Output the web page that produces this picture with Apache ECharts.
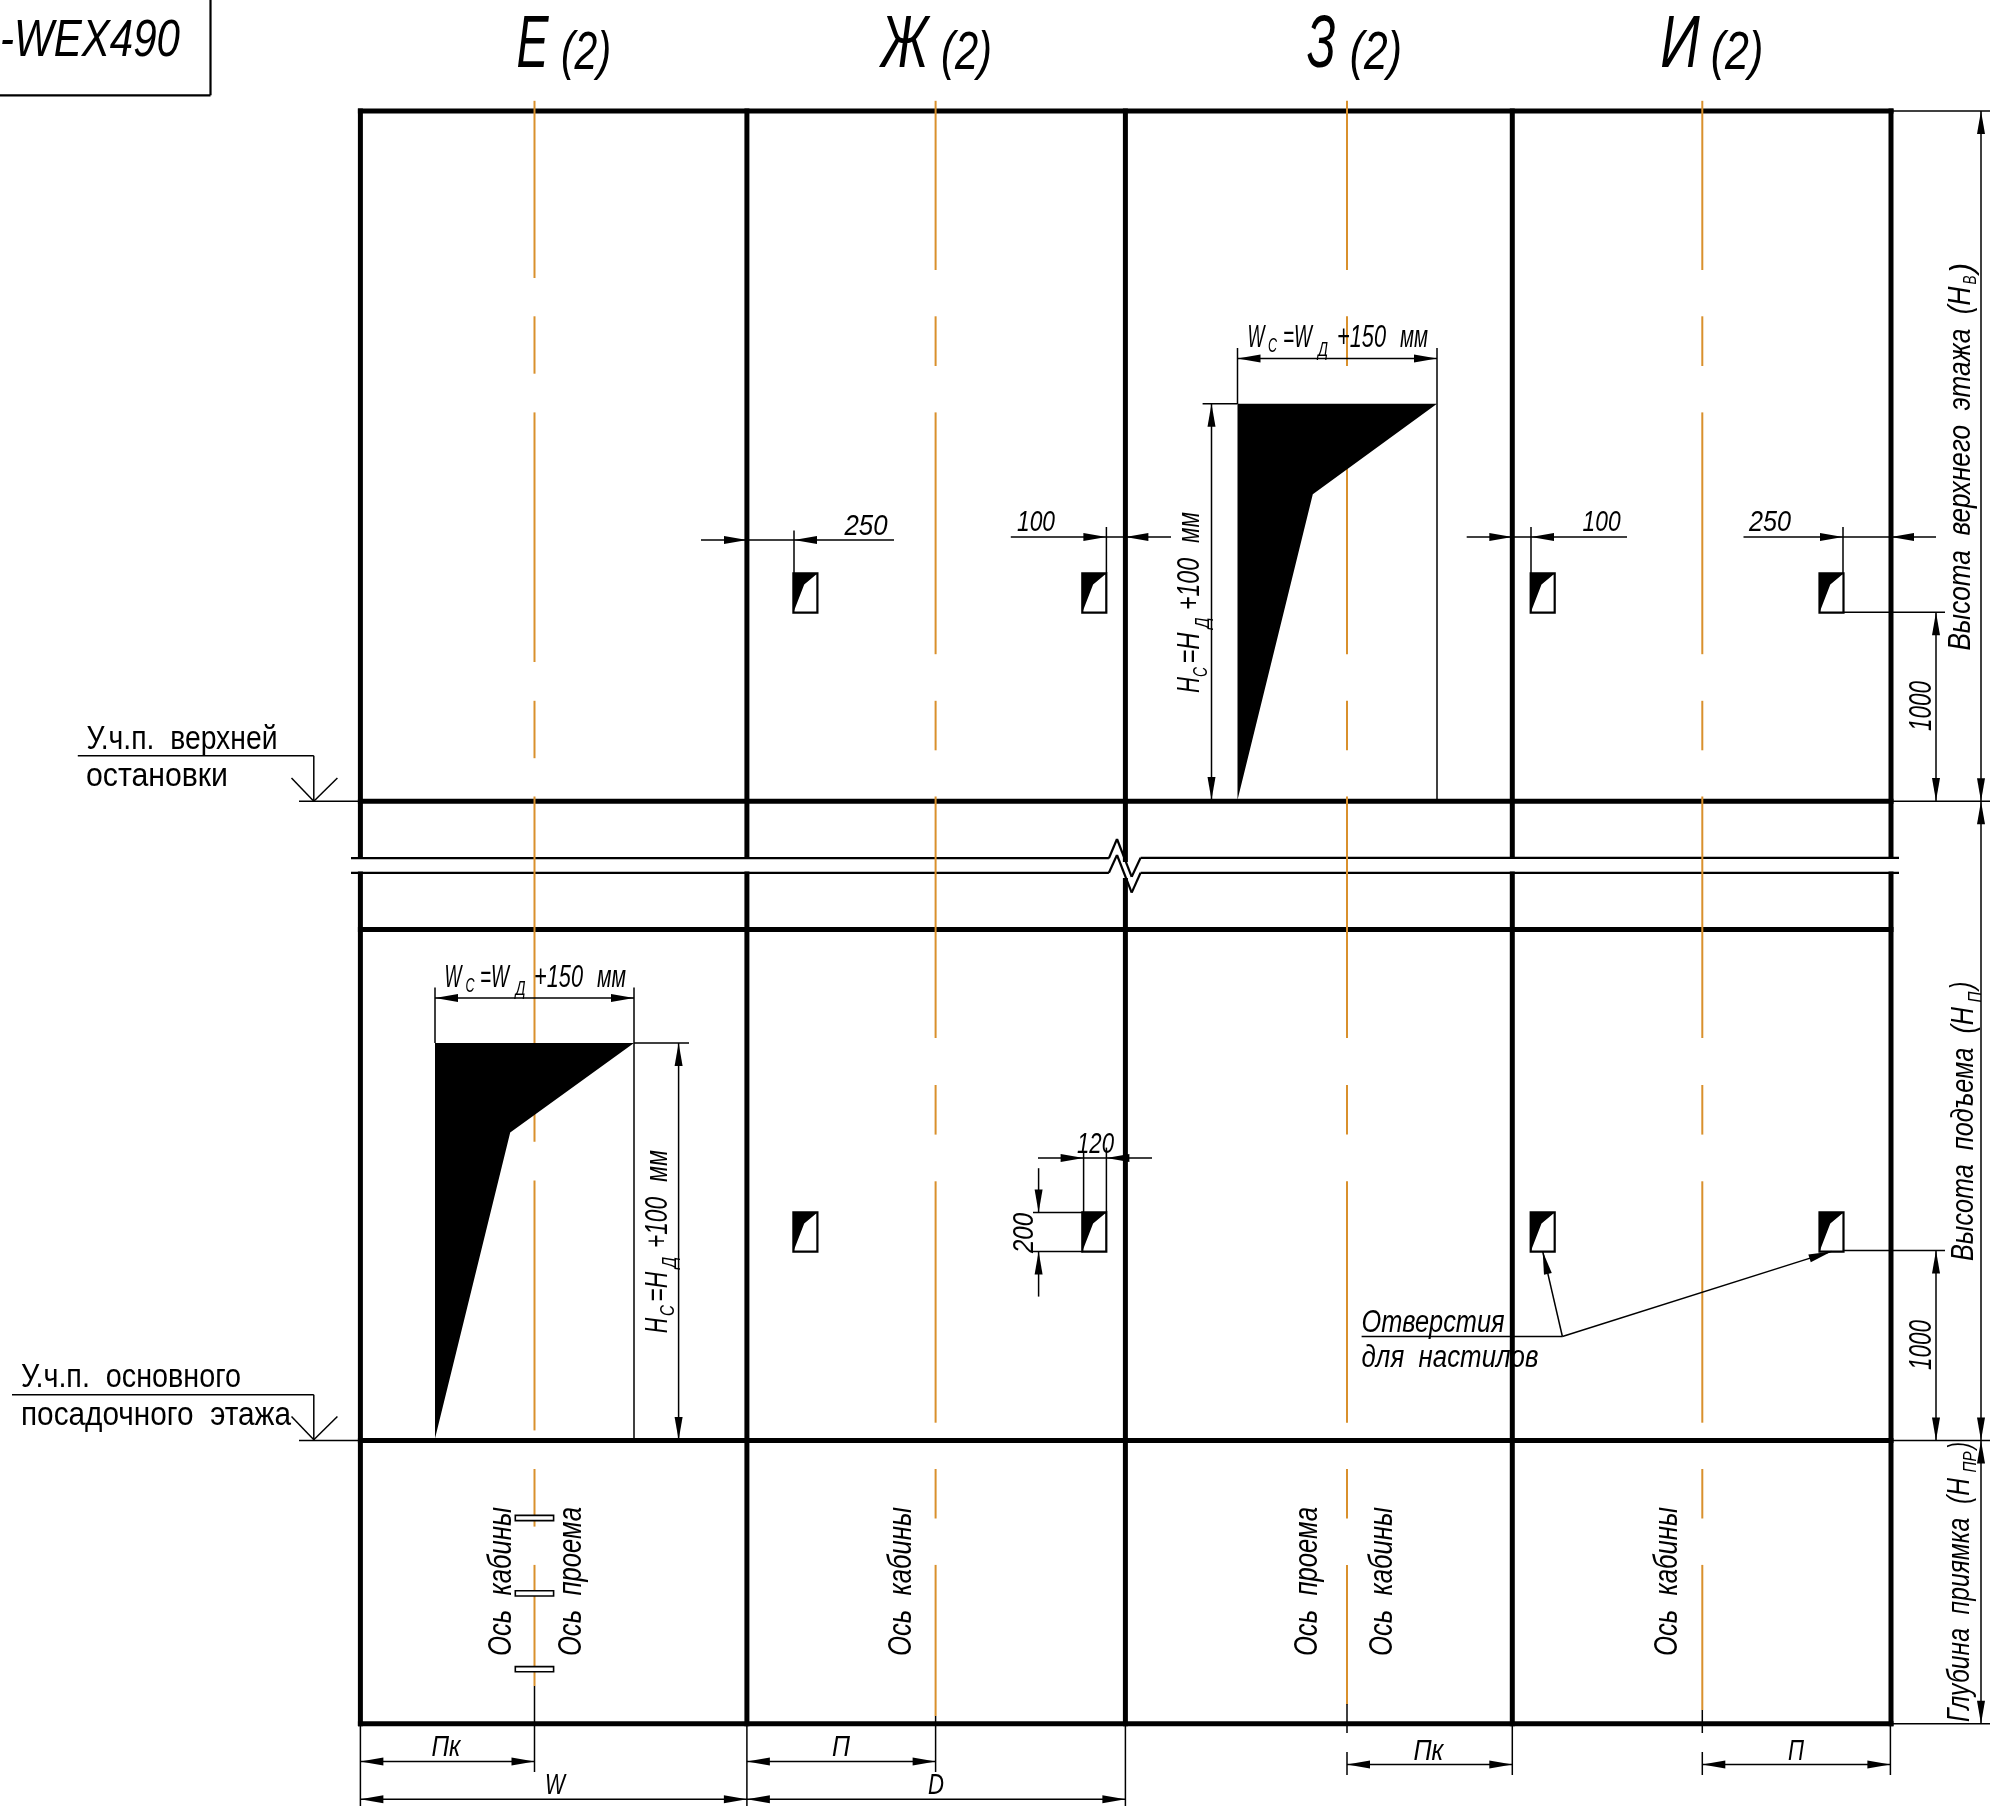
<!DOCTYPE html>
<html><head><meta charset="utf-8">
<style>html,body{margin:0;padding:0;background:#fff}#c{width:1993px;height:1806px}</style>
<script src="https://cdn.jsdelivr.net/npm/echarts@6/dist/echarts.min.js"></script>
</head><body><div id="c"></div>
<script>
// Drawing values (drawing units on the hidden axes)
const frameX = [360.4, 746.9, 1125.4, 1512.3, 1891];
const frameY = [111, 801.3, 929.4, 1440.4, 1723.8];
const axisX = [534.5, 935.6, 1347, 1702.3];
const axisDashes = [
  [[100.8,278],[316.3,373.7],[412.4,662],[700.8,758.2],[796.5,1141.7],[1180.5,1430.4],[1469,1526.6],[1564.9,1686]],
  [[100.8,270],[316.3,366],[412.4,654.2],[700.8,750.3],[796.5,1038],[1085,1134.6],[1181.3,1422.7],[1469,1518.5],[1564.9,1716]],
  [[100.8,270],[316.3,366],[412.4,654.2],[700.8,750.3],[796.5,1038],[1085,1134.6],[1181.3,1422.7],[1469,1518.5],[1564.9,1704.4]],
  [[100.8,270],[316.3,366],[412.4,654.2],[700.8,750.3],[796.5,1038],[1085,1134.6],[1181.3,1422.7],[1469,1518.5],[1564.9,1710]]
];
const axisStubs = [
  [534.5,1686,534.5,1772],[935.6,1716,935.6,1772],
  [1347,1704,1347,1733],[1347,1752,1347,1775],[1702.3,1710,1702.3,1733],[1702.3,1752,1702.3,1775]
];
const openings = [
  [435,1043,634,1043,510.2,1132.6,435,1438.5],
  [1237.5,403.7,1437,403.7,1312.8,494.3,1237.5,800]
];
const holeLeft = [793.4,1082.3,1530.7,1819.5];
const holeTop = [573.4,1212.4];
const holeWidth = 24, holeHeight = 39.2;
const sectionMarks = [1515.4,1590.8,1666.6];
const breakTop = [[351,858.2],[1108.9,858.2],[1117,839],[1131.7,876.8],[1140.6,857.8],[1899,857.8]];
const breakBottom = [[351,872.8],[1108.9,872.8],[1117,855],[1131.7,892.6],[1140.6,872.8],[1899,872.8]];
const boxLines = [[0,95.3,210.5,95.3],[210.5,0,210.5,95.3]];
const thinLines = [
  // opening extension and dimension lines
  [1237.5,348,1237.5,404],[1437,348,1437,800],[1237.5,358.6,1437,358.6],[1202.6,403.7,1237.5,403.7],[1211.5,403.7,1211.5,800],
  [435,987.5,435,1043],[634,987.5,634,1440],[435,998,634,998],[634,1043,689,1043],[678.6,1043,678.6,1440],
  // hole offsets, upper row
  [701,540,894,540],[794,530.6,794,573],[1010.8,537,1171,537],[1106.4,527,1106.4,573],
  [1466.7,537,1627,537],[1531,527,1531,573],[1743.5,537,1936,537],[1843,527,1843,573],
  [1843,612.3,1945,612.3],[1936,612.3,1936,801],
  [1843,1250.6,1945,1250.6],[1936,1250.6,1936,1440.4],
  // 120 and 200
  [1038,1158,1152,1158],[1083.6,1151,1083.6,1212],[1106.4,1147.6,1106.4,1212],
  [1038.6,1168.2,1038.6,1212.4],[1038.6,1251.4,1038.6,1296.6],[1033,1212.4,1083,1212.4],[1033,1251.4,1083,1251.4],
  // overall right dimension
  [1891,111,1990,111],[1891,801.3,1990,801.3],[1891,1440.4,1990,1440.4],[1891,1723.8,1990,1723.8],[1981,111,1981,1723.8],
  // level marks
  [77.8,755.8,313.8,755.8],[313.8,755.8,313.8,801],[291.5,778,313.8,801.3],[337.4,778,313.8,801.3],[299,801.3,360,801.3],
  [12,1394.8,313.8,1394.8],[313.8,1394.8,313.8,1440],[291.5,1416.5,313.8,1439.7],[337.4,1416.5,313.8,1439.7],[299,1440.4,360,1440.4],
  // leader for holes
  [1361.6,1336.5,1562.4,1336.5],[1562.4,1336.5,1542.7,1251.4],[1562.4,1336.5,1831.5,1251.4],
  // bottom dimensions
  [360.4,1724,360.4,1806],[746.9,1724,746.9,1806],[1125.4,1724,1125.4,1806],[1512.3,1724,1512.3,1775],[1890.4,1724,1890.4,1775],
  [360.4,1761.6,534.5,1761.6],[360.4,1799.2,746.9,1799.2],[746.9,1761.6,935.6,1761.6],[746.9,1799.2,1125.4,1799.2],
  [1347,1764.4,1512.3,1764.4],[1702.3,1764.4,1890.4,1764.4]
];
const arrows = [ // tip x, tip y, then a point behind the tip
  [1237.5,358.6,1437,358.6],[1437,358.6,1237.5,358.6],[1211.5,403.7,1211.5,800],[1211.5,800,1211.5,403.7],
  [435,998,634,998],[634,998,435,998],[678.6,1043,678.6,1440],[678.6,1440,678.6,1043],
  [747,540,701,540],[794,540,894,540],[1106.4,537,1010.8,537],[1125.4,537,1171,537],
  [1512.3,537,1466.7,537],[1531,537,1627,537],[1843,537,1743.5,537],[1891,537,1936,537],
  [1936,612.3,1936,801],[1936,801,1936,612.3],[1936,1250.6,1936,1440.4],[1936,1440.4,1936,1250.6],
  [1083.6,1158,1038,1158],[1106.4,1158,1152,1158],[1038.6,1212.4,1038.6,1168.2],[1038.6,1251.4,1038.6,1296.6],
  [1981,111,1981,800],[1981,801.3,1981,111],[1981,801.3,1981,1440],[1981,1440.4,1981,801],[1981,1440.4,1981,1723],[1981,1723.8,1981,1441],
  [1542.7,1251.4,1562.4,1336.5],[1831.5,1251.4,1562.4,1336.5],
  [360.4,1761.6,534,1761.6],[534.5,1761.6,361,1761.6],[360.4,1799.2,746,1799.2],[746.9,1799.2,361,1799.2],
  [746.9,1761.6,935,1761.6],[935.6,1761.6,747,1761.6],[746.9,1799.2,1125,1799.2],[1125.4,1799.2,747,1799.2],
  [1347,1764.4,1512,1764.4],[1512.3,1764.4,1347,1764.4],[1702.3,1764.4,1890,1764.4],[1890.4,1764.4,1702,1764.4]
];
const labelText = ['-WEX490','Е','(2)','Ж','(2)','З','(2)','И','(2)',
  'У.ч.п.  верхней','остановки','У.ч.п.  основного','посадочного  этажа','Отверстия','для  настилов',
  '250','100','100','250','120','Пк','W','П','D','Пк','П',
  'W','С','=W','Д','+150','мм','W','С','=W','Д','+150','мм'];
const labelX = [90,532.5,586,904.5,966.5,1321.3,1375.8,1680,1737,
  182,157,131,156,1433,1450,
  866,1036,1601.6,1770,1095.5,446,555,841,936,1428.4,1796,
  1256,1272.5,1297.5,1323,1361.5,1414,453,470,494.5,520.5,558.5,611.5];
const labelY = [39,42.5,51,42.5,51,42.5,51,42.5,51,
  738,775,1376,1414,1321.5,1357,
  525,521,521,521,1143,1746,1784,1746,1784,1750,1750,
  337,345.5,337,349.5,337,337,976.5,985,976.5,988.5,976.5,976.5];
const labelLength = [180,32,50,47,51,28.6,52,39.5,52.5,
  191,142,220,270,143,177,
  43,38,38,42,37,29,20,18,16,30,16,
  17,9,29,10,49,28,17,9,29,10,49,29];
const labelSize = [52,74,54,74,54,74,54,74,54,
  33,33,33,33,31,31,
  30,30,30,30,30,30,30,30,30,30,30,
  31,21,31,21,31,31,31,21,31,21,31,31];
const labelUpright = [9,10,11,12];
const sideText = ['Высота  верхнего  этажа  (H','В',')','Высота  подъема  (H','П',')','Глубина  приямка  (H','ПР',')',
  '1000','1000','200','Ось  кабины','Ось  проема','Ось  кабины','Ось  проема','Ось  кабины','Ось  кабины',
  'H','С','=H','Д','+100','мм','H','С','=H','Д','+100','мм'];
const sideX = [1959.5,1969.5,1962,1963,1974.5,1962,1959,1970,1960,
  1920,1920,1023,500,570,900.5,1306.5,1381.5,1666.5,
  1189,1200,1189,1202,1189,1189,656.5,667,656.5,669.5,656.5,656.5];
const sideY = [468.6,280,268,1134,997,985.5,1600,1462,1445.5,
  706,1345,1233,1581.6,1581.6,1581.6,1581.6,1581.6,1581.6,
  685,672,648,623,584,527.5,1325.5,1310.5,1286.7,1262.5,1222.5,1166];
const sideLength = [364,9,10,254,11,8,244,21,7,50,50,40,149,149,149,149,149,149,
  16,10,31,11,52,31,15.5,11,30,11.5,51,32];
const sideSize = [31,19,31,31,19,31,31,19,31,32,32,30,33,33,33,33,33,33,
  31,21,31,21,31,31,31,21,31,21,31,31];

const FONT = '"Liberation Sans"';
const measure = document.createElement('canvas').getContext('2d');
function widthOf(text, size, italic){
  measure.font = (italic ? 'italic ' : '') + size + 'px ' + FONT;
  return measure.measureText(text).width;
}
function lineSeries(rows, color, width, z){
  return {type:'custom', coordinateSystem:'cartesian2d', silent:true, clip:false, animation:false, z:z,
    encode:{x:[0,2], y:[1,3]}, data:rows,
    renderItem:function(p, api){
      const a = api.coord([api.value(0),api.value(1)]), b = api.coord([api.value(2),api.value(3)]);
      return {type:'line', shape:{x1:a[0],y1:a[1],x2:b[0],y2:b[1]}, style:{stroke:color,lineWidth:width,fill:null}};
    }};
}
function polygonSeries(rows, fill, stroke, width, z){
  return {type:'custom', coordinateSystem:'cartesian2d', silent:true, clip:false, animation:false, z:z,
    encode:{x:0, y:1}, data:rows,
    renderItem:function(p, api){
      const pts=[]; const r=rows[p.dataIndex];
      for(let i=0;i<r.length;i+=2) pts.push(api.coord([r[i],r[i+1]]));
      return {type:'polygon', shape:{points:pts}, style:{fill:fill,stroke:stroke,lineWidth:width}};
    }};
}
function arrowSeries(rows, z){
  return {type:'custom', coordinateSystem:'cartesian2d', silent:true, clip:false, animation:false, z:z,
    encode:{x:[0,2], y:[1,3]}, data:rows,
    renderItem:function(p, api){
      const t=api.coord([api.value(0),api.value(1)]), f=api.coord([api.value(2),api.value(3)]);
      const d=Math.hypot(f[0]-t[0],f[1]-t[1]), ux=(f[0]-t[0])/d, uy=(f[1]-t[1])/d;
      const L=23,H=4;
      return {type:'polygon', shape:{points:[t,[t[0]+ux*L-uy*H,t[1]+uy*L+ux*H],[t[0]+ux*L+uy*H,t[1]+uy*L-ux*H]]}, style:{fill:'#000'}};
    }};
}
function textSeries(text, xs, ys, lens, sizes, rot, z, upright){
  return {type:'custom', coordinateSystem:'cartesian2d', silent:true, clip:false, animation:false, z:z,
    encode:{x:0, y:1}, data:xs.map(function(x,i){return [x,ys[i]];}),
    renderItem:function(p, api){
      const i=p.dataIndex, c=api.coord([api.value(0),api.value(1)]);
      const italic = upright.indexOf(i)<0;
      const s = lens[i]/widthOf(text[i],sizes[i],italic);
      const off = sizes[i]*0.05;
      return {type:'text', x:c[0]+(rot?off:0), y:c[1]+(rot?0:off), rotation:rot, scaleX:s, scaleY:1,
        style:{text:text[i], fill:'#000', align:'center', verticalAlign:'middle',
          font:(italic?'italic ':'')+sizes[i]+'px '+FONT}};
    }};
}
const frameRows = [];
frameX.forEach(function(x,i){
  const a = i===2?862:859, b = i===2?878:871.6;
  frameRows.push([x,frameY[0]-2.5,x,a],[x,b,x,frameY[4]+2.5]);
});
frameY.forEach(function(y){ frameRows.push([frameX[0]-2.5,y,frameX[4]+2.5,y]); });
const orangeRows = [];
axisDashes.forEach(function(list,i){ list.forEach(function(d){ orangeRows.push([axisX[i],d[0],axisX[i],d[1]]); }); });
function chain(pts){ const out=[]; for(let i=0;i<pts.length-1;i++) out.push([pts[i][0],pts[i][1],pts[i+1][0],pts[i+1][1]]); return out; }
const holeRects=[], holeFills=[];
holeTop.forEach(function(t){ holeLeft.forEach(function(l){
  holeRects.push([l,t,l+holeWidth,t,l+holeWidth,t+holeHeight,l,t+holeHeight]);
  holeFills.push([l,t,l+holeWidth,t,l+holeWidth*0.45,t+holeHeight*0.28,l,t+holeHeight]);
});});
const markRects = sectionMarks.map(function(y){ return [515.3,y,553.6,y,553.6,y+5.2,515.3,y+5.2]; });

const chart = echarts.init(document.getElementById('c'), null, {renderer:'canvas', width:1993, height:1806});
chart.setOption({
  animation:false, backgroundColor:'#fff',
  grid:{left:0,right:0,top:0,bottom:0,containLabel:false},
  xAxis:{type:'value',min:0,max:1993,show:false},
  yAxis:{type:'value',min:0,max:1806,inverse:true,show:false},
  tooltip:{show:false}, legend:{show:false},
  series:[
    lineSeries(frameRows,'#000',5,1),
    lineSeries(chain(breakTop).concat(chain(breakBottom)),'#000',2.2,2),
    lineSeries(boxLines,'#000',2.2,2),
    lineSeries(orangeRows,'#d9902c',2,3),
    lineSeries(axisStubs,'#000',1.5,3),
    polygonSeries(openings,'#000',null,0,4),
    polygonSeries(holeRects,'#fff','#000',2.2,4),
    polygonSeries(holeFills,'#000',null,0,5),
    polygonSeries(markRects,'#fff','#000',1.6,5),
    lineSeries(thinLines,'#000',1.5,6),
    arrowSeries(arrows,7),
    textSeries(labelText,labelX,labelY,labelLength,labelSize,0,8,labelUpright),
    textSeries(sideText,sideX,sideY,sideLength,sideSize,Math.PI/2,8,[])
  ]
});
</script></body></html>
